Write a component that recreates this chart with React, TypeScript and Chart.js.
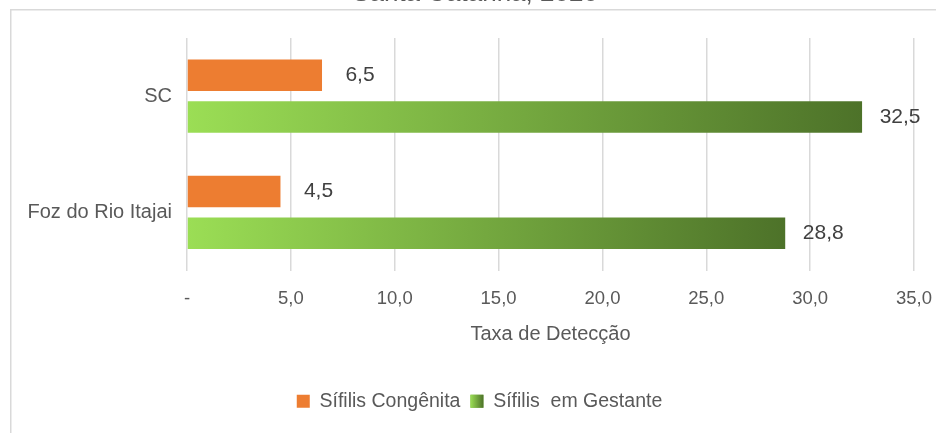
import React, { useEffect, useRef } from "react";
import { Chart, registerables } from "chart.js";

Chart.register(...registerables);

const chartTitle = "Santa Catarina, 2020";
const categories = ["SC", "Foz do Rio Itajai"];
const seriesNames = ["Sífilis Congênita", "Sífilis  em Gestante"];
const congenita = [6.5, 4.5];
const gestante = [32.5, 28.8];
const axisTitle = "Taxa de Detecção";
const xMin = 0;
const xMax = 35;
const xStep = 5;

const FONT = "'Liberation Sans', Arial, sans-serif";
const TEXT = "#595959";
const LEGEND_SIZE = 19.5;
const BOX = 13;
const GREEN_LIGHT = "#9BDE55";
const GREEN_DARK = "#4D7229";

const fmt = (v: number) => (v === 0 ? "-" : v.toFixed(1).replace(".", ","));

const decoPlugin = {
  id: "deco",
  afterLayout(chart: any) {
    if (chart.legend) {
      chart.legend.left = 45;
    }
  },
  beforeDraw(chart: any) {
    const ctx = chart.ctx;
    ctx.save();
    ctx.strokeStyle = "#D9D9D9";
    ctx.lineWidth = 1.5;
    ctx.beginPath();
    ctx.moveTo(10.75, 433);
    ctx.lineTo(10.75, 9.75);
    ctx.lineTo(936, 9.75);
    ctx.stroke();
    ctx.fillStyle = TEXT;
    ctx.font = `26px ${FONT}`;
    ctx.textAlign = "center";
    ctx.textBaseline = "alphabetic";
    ctx.fillText(chartTitle, 475, 1);
    ctx.restore();
  },
  afterDatasetsDraw(chart: any) {
    const ctx = chart.ctx;
    ctx.save();
    ctx.fillStyle = "#404040";
    ctx.font = `21px ${FONT}`;
    ctx.textAlign = "center";
    ctx.textBaseline = "middle";
    chart.data.datasets.forEach((ds: any, i: number) => {
      const meta = chart.getDatasetMeta(i);
      meta.data.forEach((bar: any, j: number) => {
        ctx.fillText(fmt(ds.data[j]), bar.x + 38, bar.y);
      });
    });
    ctx.restore();
  },
  afterDraw(chart: any) {
    const lg = chart.legend;
    if (!lg || !lg.legendHitBoxes || !lg.legendHitBoxes[1]) return;
    const hb = lg.legendHitBoxes[1];
    const ctx = chart.ctx;
    const top = hb.top + Math.max((LEGEND_SIZE - BOX) / 2, 0);
    const g = ctx.createLinearGradient(hb.left, 0, hb.left + BOX, 0);
    g.addColorStop(0, GREEN_LIGHT);
    g.addColorStop(1, GREEN_DARK);
    ctx.save();
    ctx.fillStyle = g;
    ctx.fillRect(hb.left, top, BOX, BOX);
    ctx.restore();
  },
};

export default function App() {
  const ref = useRef<HTMLCanvasElement>(null);
  useEffect(() => {
    if (!ref.current) return;
    const greenBg = (c: any) => {
      const chart = c.chart;
      if (c.type !== "data" || !chart.chartArea || !chart.scales.x) return "#72AE3E";
      const xs = chart.scales.x;
      const x0 = xs.getPixelForValue(0);
      const x1 = xs.getPixelForValue(c.raw);
      const g = chart.ctx.createLinearGradient(x0, 0, x1, 0);
      g.addColorStop(0, GREEN_LIGHT);
      g.addColorStop(1, GREEN_DARK);
      return g;
    };
    const chart = new Chart(ref.current, {
      type: "bar",
      data: {
        labels: categories,
        datasets: [
          {
            label: seriesNames[0],
            data: congenita,
            backgroundColor: "#ED7D31",
            borderWidth: 0,
            categoryPercentage: 0.72,
            barPercentage: 0.75,
          },
          {
            label: seriesNames[1],
            data: gestante,
            backgroundColor: greenBg,
            borderWidth: 0,
            categoryPercentage: 0.72,
            barPercentage: 0.75,
          },
        ],
      },
      options: {
        indexAxis: "y",
        animation: false,
        responsive: false,
        devicePixelRatio: 1,
        layout: { padding: { top: 38, right: 22, left: 0, bottom: 12 } },
        scales: {
          x: {
            min: xMin,
            max: xMax,
            ticks: {
              stepSize: xStep,
              padding: 17,
              color: TEXT,
              font: { family: FONT, size: 18.5 },
              callback: (v: any) => fmt(Number(v)),
            },
            grid: { color: "#D9D9D9", lineWidth: 1.5, drawTicks: false },
            border: { display: false },
            title: {
              display: true,
              text: axisTitle,
              color: TEXT,
              font: { family: FONT, size: 20 },
              padding: { top: 0, bottom: 35 },
            },
            afterFit: (s: any) => {
              s.height = 111;
              s.paddingRight = 0;
              s.paddingLeft = 0;
            },
          },
          y: {
            ticks: {
              padding: 15,
              color: TEXT,
              font: { family: FONT, size: 20 },
            },
            grid: { display: false, drawTicks: false },
            border: { display: false },
            afterFit: (s: any) => {
              s.width = 187;
            },
          },
        },
        plugins: {
          legend: {
            position: "bottom",
            labels: {
              color: TEXT,
              font: { family: FONT, size: LEGEND_SIZE },
              boxWidth: BOX,
              boxHeight: BOX,
              padding: 10,
            },
          },
          tooltip: { enabled: false },
        },
      },
      plugins: [decoPlugin],
    });
    return () => chart.destroy();
  }, []);
  return (
    <div style={{ position: "absolute", left: 0, top: 0, width: 936, height: 433, background: "#fff" }}>
      <canvas ref={ref} width={936} height={433} style={{ display: "block" }} />
    </div>
  );
}
